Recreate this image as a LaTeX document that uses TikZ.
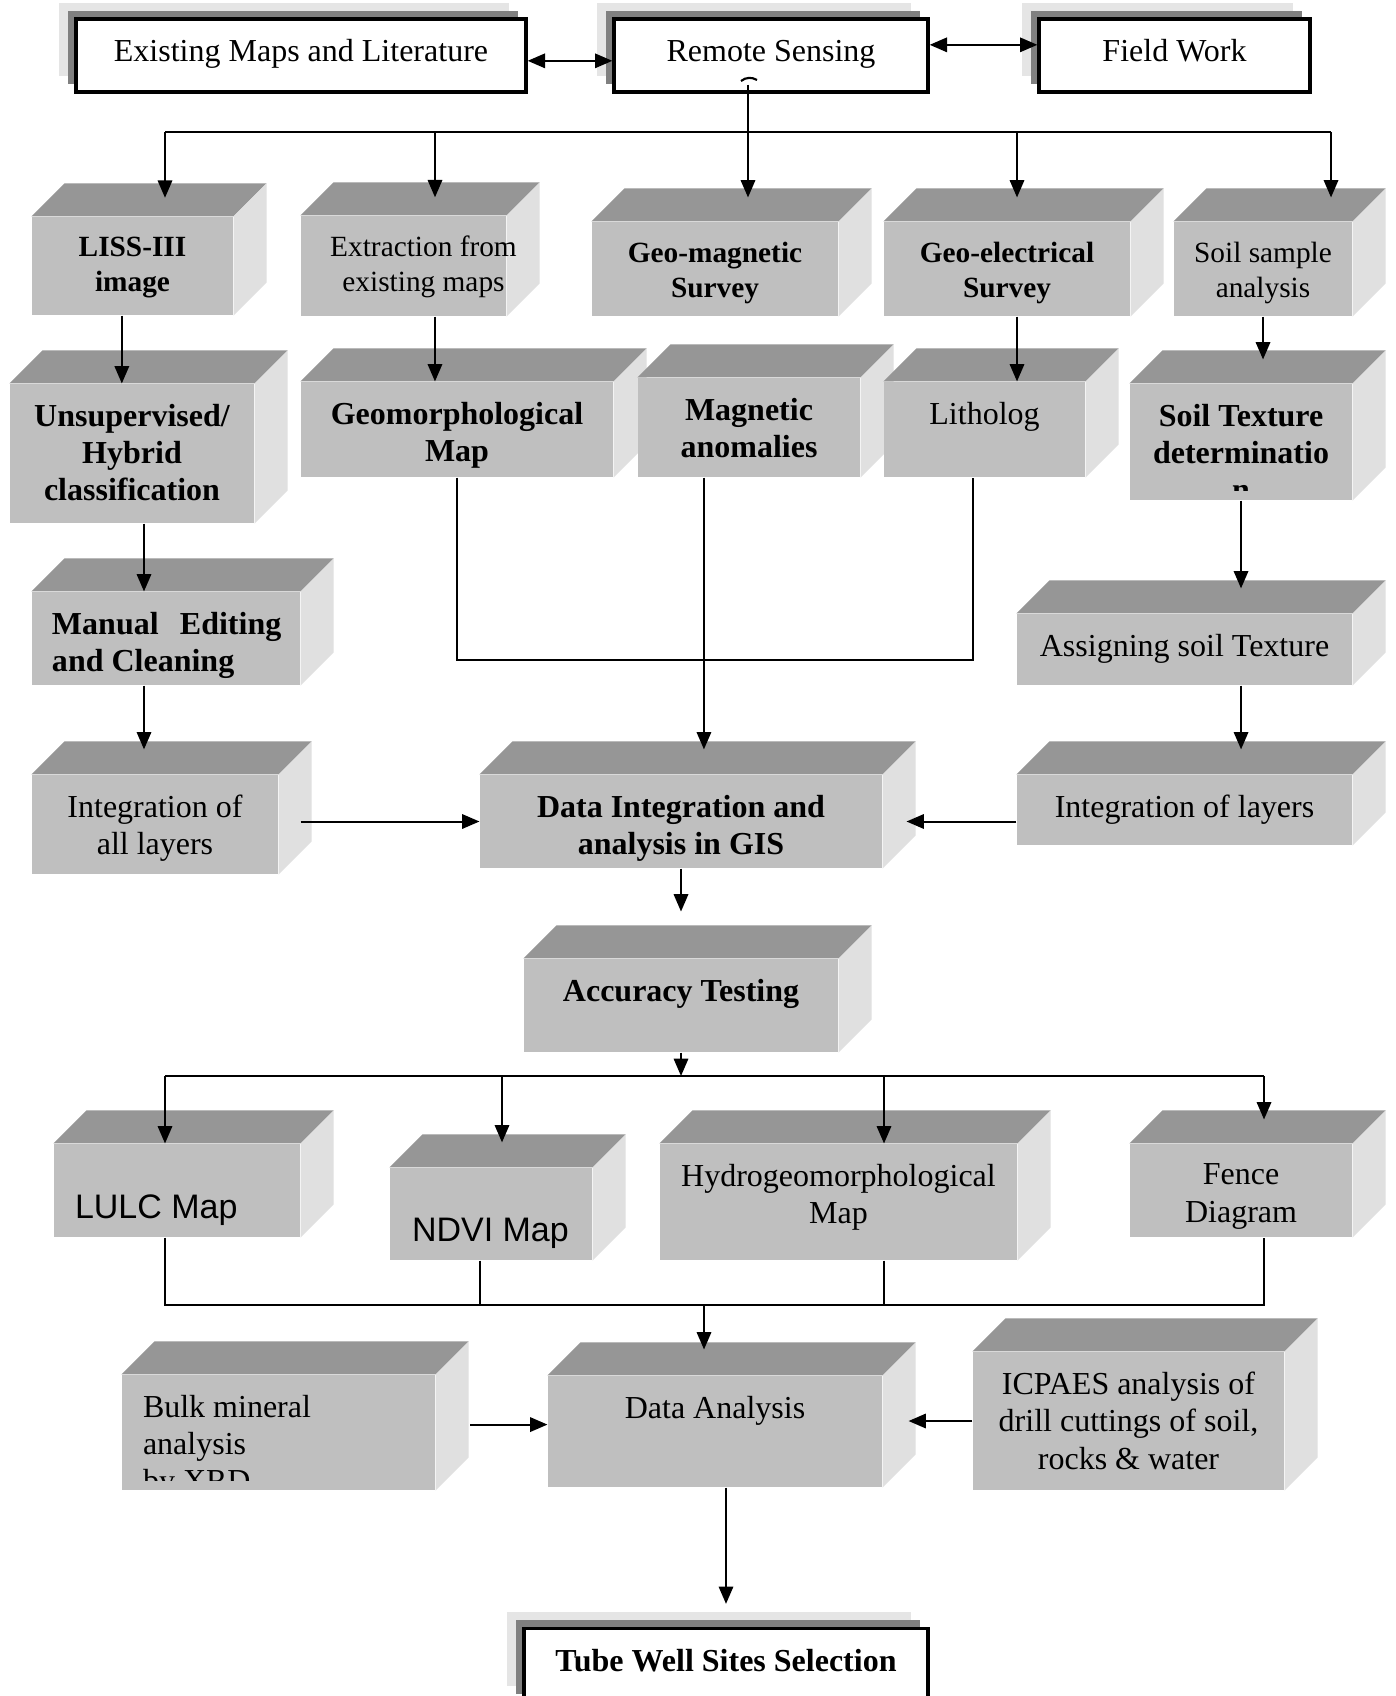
\documentclass[tikz,border=0pt]{standalone}
\usepackage{fontspec}
\setmainfont{Liberation Serif}
\newfontfamily\arialfont{Liberation Sans}
\usetikzlibrary{calc, positioning, fit, shadows}
\usetikzlibrary{arrows.meta}
\pgfdeclarelayer{background}
\pgfsetlayers{background,main}

\tikzset{
  front/.style={fill=black!25, inner sep=0pt},
  framed/.style={fill=white, draw=black, line width=1.25pt, inner sep=0pt,
    minimum height=27.4pt, text height=0.68em, text depth=0.22em,
    font=\fontsize{12}{14}\selectfont,
    copy shadow={shadow xshift=-6.4pt, shadow yshift=6pt, fill=black!10, draw=none},
    copy shadow={shadow xshift=-3pt, shadow yshift=3pt, fill=black!50, draw=none}},
  txt/.style={anchor=north, align=center, inner sep=0pt, font=\fontsize{12}{14}\selectfont},
  txtb/.style={txt, font=\fontsize{12}{14}\selectfont\bfseries},
  smalltxt/.style={txt, font=\fontsize{11}{13}\selectfont},
  smalltxtb/.style={txt, font=\fontsize{11}{13}\selectfont\bfseries},
  sanstxt/.style={txt, anchor=north west, font=\arialfont\fontsize{12.75}{14}\selectfont},
  link/.style={line width=0.75pt},
  arrow/.style={link, -{Triangle[length=6.5pt, width=5.4pt]}},
  biarrow/.style={link, {Triangle[length=6.5pt, width=5.4pt]}-{Triangle[length=6.5pt, width=5.4pt]}},
}

\begin{document}
\begin{tikzpicture}[x=0.375pt,y=-0.375pt]
\def\cubedepth{33}
\useasboundingbox (0,0) rectangle (1395,1696);

% Source boxes
\node[framed, minimum width=168.75pt] (exist) at (301,55.5) {Existing Maps and Literature};
\node[framed, minimum width=117.75pt] (remote) at (771,55.5) {Remote Sensing};
\node[framed, minimum width=101.6pt] (field) at (1174.5,55.5) {Field Work};

% Front faces of the blocks
\node[front, fit={(32,217) (233,315)}] (liss) {};
\node[front, fit={(301,216) (506,316)}] (extr) {};
\node[front, fit={(592,222) (838,316)}] (gmag) {};
\node[front, fit={(884,222) (1130,316)}] (gelec) {};
\node[front, fit={(1174,222) (1352,316)}] (soil) {};
\node[front, fit={(10,384) (254,523)}] (unsup) {};
\node[front, fit={(301,382) (613,477)}] (geom) {};
\node[front, fit={(638,378) (860,477)}] (magan) {};
\node[front, fit={(884,382) (1085,477)}] (litho) {};
\node[front, fit={(1130,384) (1352,500)}] (stex) {};
\node[front, fit={(32,592) (300,685)}] (manual) {};
\node[front, fit={(1017,614) (1352,685)}] (assign) {};
\node[front, fit={(32,775) (278,874)}] (intall) {};
\node[front, fit={(480,775) (882,868)}] (dataint) {};
\node[front, fit={(1017,775) (1352,845)}] (intlay) {};
\node[front, fit={(524,959) (838,1052)}] (accur) {};
\node[front, fit={(54,1144) (300,1237)}] (lulc) {};
\node[front, fit={(390,1168) (592,1260)}] (ndvi) {};
\node[front, fit={(660,1144) (1017,1260)}] (hydro) {};
\node[front, fit={(1130,1144) (1352,1237)}] (fence) {};
\node[front, fit={(122,1375) (435,1490)}] (bulk) {};
\node[front, fit={(548,1376) (882,1487)}] (anal) {};
\node[front, fit={(973,1352) (1284,1490)}] (icp) {};

% Final box
\node[framed, minimum width=151.5pt, font=\fontsize{12}{14}\selectfont\bfseries] (tube) at (726,1665) {Tube Well Sites Selection};

% Top and side faces behind the fronts
\begin{pgfonlayer}{background}
\fill[white] (0,0) rectangle (1395,1696);
\foreach \b in {liss,extr,gmag,gelec,soil,unsup,geom,magan,litho,stex,manual,assign,
                intall,dataint,intlay,accur,lulc,ndvi,hydro,fence,bulk,anal,icp} {
  \fill[black!41] (\b.north west) -- ($(\b.north west)+(\cubedepth,-\cubedepth)$)
      -- ($(\b.north east)+(\cubedepth,-\cubedepth)$) -- (\b.north east) -- cycle;
  \fill[black!12] (\b.north east) -- ($(\b.north east)+(\cubedepth,-\cubedepth)$)
      -- ($(\b.south east)+(\cubedepth,-\cubedepth)$) -- (\b.south east) -- cycle;
}
\end{pgfonlayer}

% Block texts
\node[smalltxtb] (liss-t) at ($(liss.north)+(0,20)$) {LISS-III\\image};
\node[smalltxt] (extr-t) at ($(extr.north)+(20,20)$) {Extraction from\\existing maps};
\node[smalltxtb] (gmag-t) at ($(gmag.north)+(0,20)$) {Geo-magnetic\\Survey};
\node[smalltxtb] (gelec-t) at ($(gelec.north)+(0,20)$) {Geo-electrical\\Survey};
\node[smalltxt] (soil-t) at ($(soil.north)+(0,20)$) {Soil sample\\analysis};
\node[txtb] (unsup-t) at ($(unsup.north)+(0,20)$) {Unsupervised/\\Hybrid\\classification};
\node[txtb] (geom-t) at ($(geom.north)+(0,20)$) {Geomorphological\\Map};
\node[txtb] (magan-t) at ($(magan.north)+(0,20)$) {Magnetic\\anomalies};
\node[txt] (litho-t) at ($(litho.north)+(0,20)$) {Litholog};
\begin{scope}
  \clip (stex.north west) rectangle ($(stex.south east)+(0,-10)$);
  \node[txtb] (stex-t) at ($(stex.north)+(0,20)$) {Soil Texture\\determinatio\\n};
\end{scope}
\node[txtb, anchor=north west, align=left] (manual-t) at ($(manual.north west)+(20,20)$)
    {\makebox[86pt]{Manual\hfill Editing}\\and Cleaning};
\node[txt] (assign-t) at ($(assign.north)+(0,20)$) {Assigning soil Texture};
\node[txt] (intall-t) at ($(intall.north)+(0,20)$) {Integration of\\all layers};
\node[txtb] (dataint-t) at ($(dataint.north)+(0,20)$) {Data Integration and\\analysis in GIS};
\node[txt] (intlay-t) at ($(intlay.north)+(0,20)$) {Integration of layers};
\node[txtb] (accur-t) at ($(accur.north)+(0,20)$) {Accuracy Testing};
\node[sanstxt] (lulc-t) at ($(lulc.north west)+(21,51)$) {LULC Map};
\node[sanstxt] (ndvi-t) at ($(ndvi.north west)+(22,50)$) {NDVI Map};
\node[txt] (hydro-t) at ($(hydro.north)+(0,20)$) {Hydrogeomorphological\\Map};
\node[txt] (fence-t) at ($(fence.north)+(0,20)$) {Fence\\Diagram};
\begin{scope}
  \clip (bulk.north west) rectangle ($(bulk.south east)+(0,-10)$);
  \node[txt, anchor=north west, align=left] (bulk-t) at ($(bulk.north west)+(21,20)$)
      {Bulk mineral\\analysis\\by XRD};
\end{scope}
\node[txt] (anal-t) at ($(anal.north)+(0,20)$) {Data Analysis};
\node[txt] (icp-t) at ($(icp.north)+(0,20)$) {ICPAES analysis of\\drill cuttings of soil,\\rocks \& water};

% Links between the sources
\draw[biarrow] ([yshift=-2pt]exist.east) -- ([yshift=-2pt]exist.east -| remote.west);
\draw[biarrow] ([yshift=4pt]remote.east) -- ([yshift=4pt]remote.east -| field.west);
\draw[line width=0.8pt] (741,81) .. controls (746,77) and (752,77) .. (757,80);

% Distribution to the first row
\coordinate (b1w) at (165,132);
\coordinate (b1x) at (435,132);
\coordinate (b1g) at (748,132);
\coordinate (b1r) at (1017,132);
\coordinate (b1e) at (1331,132);
\draw[link] (b1w) -- (b1e);
\draw[arrow, shorten >=7pt] (b1w) -- (b1w |- liss.north);
\draw[arrow, shorten >=6.8pt] (b1x) -- (b1x |- extr.north);
\draw[arrow, shorten >=9pt] ($(remote.south -| b1g)+(0,-9)$) -- (b1g |- gmag.north);
\draw[arrow, shorten >=9pt] (b1r) -- (b1r |- gelec.north);
\draw[arrow, shorten >=9pt] (b1e) -- (b1e |- soil.north);

% Down the columns
\draw[arrow] ([xshift=-4pt]liss.south) -- ([xshift=-4pt]liss.south |- unsup.north);
\draw[arrow] ([xshift=4.5pt]unsup.south) -- ([xshift=4.5pt]unsup.south |- manual.north);
\draw[arrow, shorten >=9.4pt] ([xshift=-8.25pt]manual.south) -- ([xshift=-8.25pt]manual.south |- intall.north);
\draw[arrow] ([xshift=11.8pt]extr.south) -- ([xshift=11.8pt]extr.south |- geom.north);
\draw[arrow] ([xshift=3.75pt]gelec.south) -- ([xshift=3.75pt]gelec.south |- litho.north);
\draw[arrow, shorten >=9pt] (soil.south) -- (soil.south |- stex.north);
\draw[arrow, shorten >=9.4pt] (stex.south) -- (stex.south |- assign.north);
\draw[arrow, shorten >=9.4pt] ([xshift=21.2pt]assign.south) -- ([xshift=21.2pt]assign.south |- intlay.north);

% Geomorphology and litholog bracket
\coordinate (brk) at (973,660);
\draw[link] (geom.south) |- (brk) -- (brk |- litho.south);
\draw[arrow, shorten >=9.4pt] ([xshift=-16.9pt]magan.south) -- ([xshift=-16.9pt]magan.south |- dataint.north);

% Into data integration
\draw[arrow] ([xshift=8.25pt]dataint.west -| intall.east) -- (dataint.west);
\draw[arrow] (dataint.east -| intlay.west) -- ([xshift=9pt]dataint.east);
\draw[arrow, shorten >=17.6pt] (dataint.south) -- (accur.north);

% Output maps
\coordinate (b2w) at (165,1076);
\coordinate (b2n) at (502,1076);
\coordinate (b2h) at (884,1076);
\coordinate (b2e) at (1264,1076);
\draw[arrow] (accur.south) -- (accur.south |- b2w);
\draw[link] (b2w) -- (b2e);
\draw[arrow] (b2w) -- (b2w |- lulc.north);
\draw[arrow, shorten >=9.4pt] (b2n) -- (b2n |- ndvi.north);
\draw[arrow] (b2h) -- (b2h |- hydro.north);
\draw[arrow, shorten >=9pt] (b2e) -- (b2e |- fence.north);

% Collecting line
\coordinate (b3w) at (165,1305);
\coordinate (b3n) at (480,1305);
\coordinate (b3a) at (704,1305);
\coordinate (b3h) at (884,1305);
\coordinate (b3e) at (1264,1305);
\draw[link] (lulc.south -| b3w) -- (b3w) -- (b3e) -- (fence.south -| b3e);
\draw[link] (ndvi.south -| b3n) -- (b3n);
\draw[link] (hydro.south -| b3h) -- (b3h);
\draw[arrow, shorten >=9.75pt] (b3a) -- (b3a |- anal.north);

% Into data analysis and the result
\draw[arrow] ([xshift=13pt, yshift=2.6pt]anal.west -| bulk.east) -- ([yshift=2.6pt]anal.west);
\draw[arrow] (icp.west) -- ([xshift=9.75pt]icp.west -| anal.east);
\draw[arrow, shorten >=8.6pt] (tube.north |- anal.south) -- (tube.north);
\end{tikzpicture}
\end{document}
